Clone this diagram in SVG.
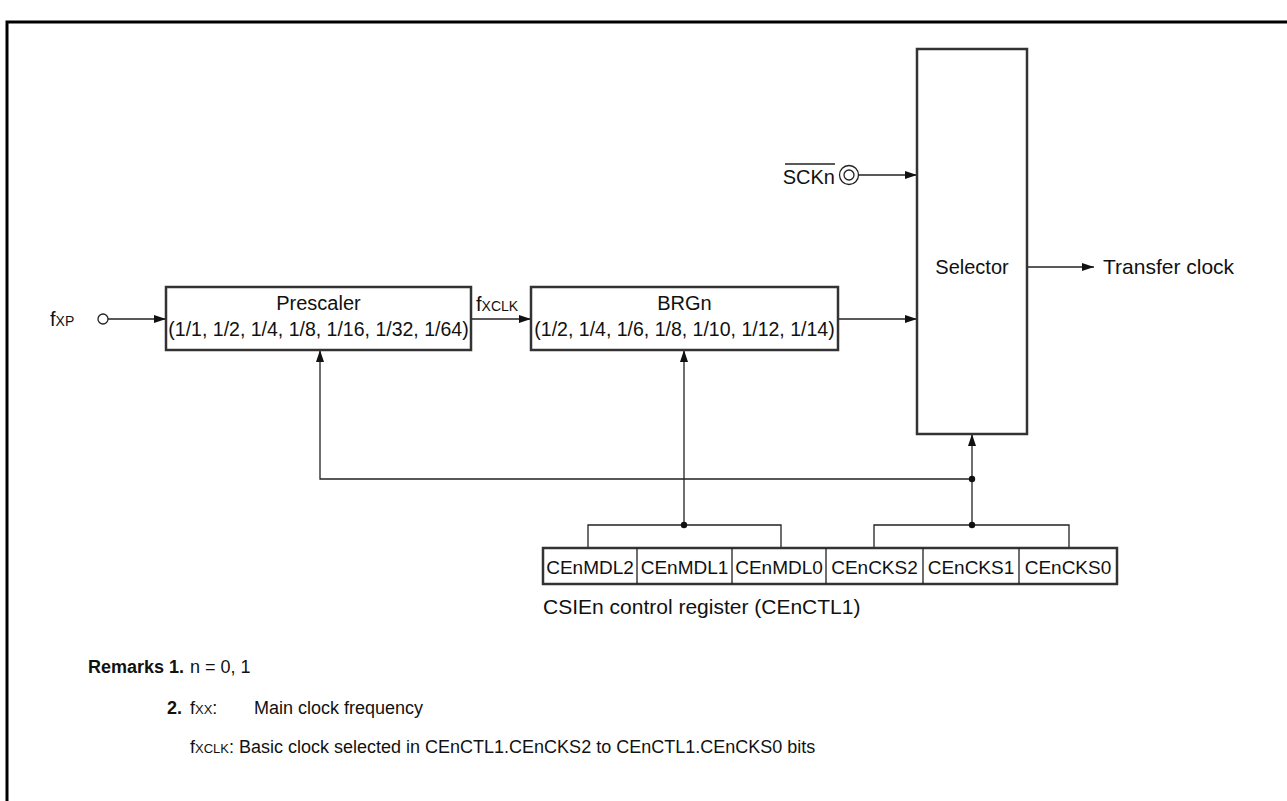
<svg xmlns="http://www.w3.org/2000/svg" width="1287" height="801" viewBox="0 0 1287 801">
<style>
text{font-family:"Liberation Sans",Arial,Helvetica,sans-serif;fill:#111;}
.t{font-size:20px;}
.p{font-size:19.5px;}
.s{font-size:14px;}
.rg{font-size:19px;}
.rm{font-size:18px;}
.b{font-weight:bold;}
.box{fill:#fff;stroke:#333;stroke-width:2.5;}
.ln{fill:none;stroke:#222;stroke-width:1.3;}
.frame{fill:none;stroke:#000;stroke-width:3;}
</style>
<defs>
<marker id="ah" markerUnits="userSpaceOnUse" markerWidth="12" markerHeight="8" refX="12" refY="4" orient="auto">
<path d="M0,0 L12,4 L0,8 Z" fill="#111"/>
</marker>
</defs>
<path class="frame" d="M7,801 V22 H1287"/>
<g id="connectors">
<path class="ln" d="M108,319 H166" marker-end="url(#ah)"/>
<path class="ln" d="M471,319 H531" marker-end="url(#ah)"/>
<path class="ln" d="M838,319 H917" marker-end="url(#ah)"/>
<path class="ln" d="M859,175 H917" marker-end="url(#ah)"/>
<path class="ln" d="M1027,267 H1094" marker-end="url(#ah)"/>
<path class="ln" d="M972,479 H320 V350" marker-end="url(#ah)"/>
<path class="ln" d="M684,525 V350" marker-end="url(#ah)"/>
<path class="ln" d="M972,525 V434" marker-end="url(#ah)"/>
<path class="ln" d="M588,548 V525 H781 V548"/>
<path class="ln" d="M874,548 V525 H1069 V548"/>
<circle cx="684" cy="525" r="3.2" fill="#111"/>
<circle cx="972" cy="525" r="3.2" fill="#111"/>
<circle cx="972" cy="479" r="3.2" fill="#111"/>
</g>
<g id="fxp">
<text x="50" y="326" class="t">f<tspan class="s">XP</tspan></text>
<circle cx="103" cy="319" r="5" fill="#fff" stroke="#222" stroke-width="1.3"/>
</g>
<g id="sckn">
<text x="835" y="184" class="t" text-anchor="end">SCKn</text>
<line x1="785" y1="164" x2="835" y2="164" stroke="#222" stroke-width="1.3"/>
<circle cx="849" cy="175" r="9.5" fill="#fff" stroke="#222" stroke-width="1.3"/>
<circle cx="849" cy="175" r="5" fill="#fff" stroke="#222" stroke-width="1.3"/>
</g>
<g id="prescaler">
<rect class="box" x="166" y="287" width="305" height="63"/>
<text x="318.5" y="310" class="t" text-anchor="middle">Prescaler</text>
<text x="318.5" y="336" class="p" text-anchor="middle">(1/1, 1/2, 1/4, 1/8, 1/16, 1/32, 1/64)</text>
</g>
<g id="fxclk">
<text x="476" y="311" class="t">f<tspan class="s">XCLK</tspan></text>
</g>
<g id="brgn">
<rect class="box" x="531" y="287" width="307" height="63"/>
<text x="684.5" y="310" class="t" text-anchor="middle">BRGn</text>
<text x="684.5" y="336" class="p" text-anchor="middle">(1/2, 1/4, 1/6, 1/8, 1/10, 1/12, 1/14)</text>
</g>
<g id="selector">
<rect class="box" x="917" y="49" width="110" height="385"/>
<text x="972" y="274" class="t" text-anchor="middle">Selector</text>
</g>
<g id="transfer">
<text x="1103" y="274" font-size="21">Transfer clock</text>
</g>
<g id="register">
<rect class="box" x="543" y="548" width="574" height="36"/>
<path class="ln" d="M637,548 V584 M732,548 V584 M826,548 V584 M923,548 V584 M1019,548 V584"/>
<text x="590" y="574" class="rg" text-anchor="middle">CEnMDL2</text>
<text x="684.5" y="574" class="rg" text-anchor="middle">CEnMDL1</text>
<text x="779" y="574" class="rg" text-anchor="middle">CEnMDL0</text>
<text x="874.5" y="574" class="rg" text-anchor="middle">CEnCKS2</text>
<text x="971" y="574" class="rg" text-anchor="middle">CEnCKS1</text>
<text x="1068" y="574" class="rg" text-anchor="middle">CEnCKS0</text>
<text x="543" y="614" font-size="21">CSIEn control register (CEnCTL1)</text>
</g>
<g id="remarks">
<text x="88" y="673" class="rm b">Remarks 1.</text>
<text x="190" y="673" class="rm">n = 0, 1</text>
<text x="182" y="714" class="rm b" text-anchor="end">2.</text>
<text x="190" y="714" class="rm">f<tspan font-size="13">XX</tspan>:</text>
<text x="254" y="714" class="rm">Main clock frequency</text>
<text x="190" y="753" class="rm">f<tspan font-size="13">XCLK</tspan>: Basic clock selected in CEnCTL1.CEnCKS2 to CEnCTL1.CEnCKS0 bits</text>
</g>
</svg>
